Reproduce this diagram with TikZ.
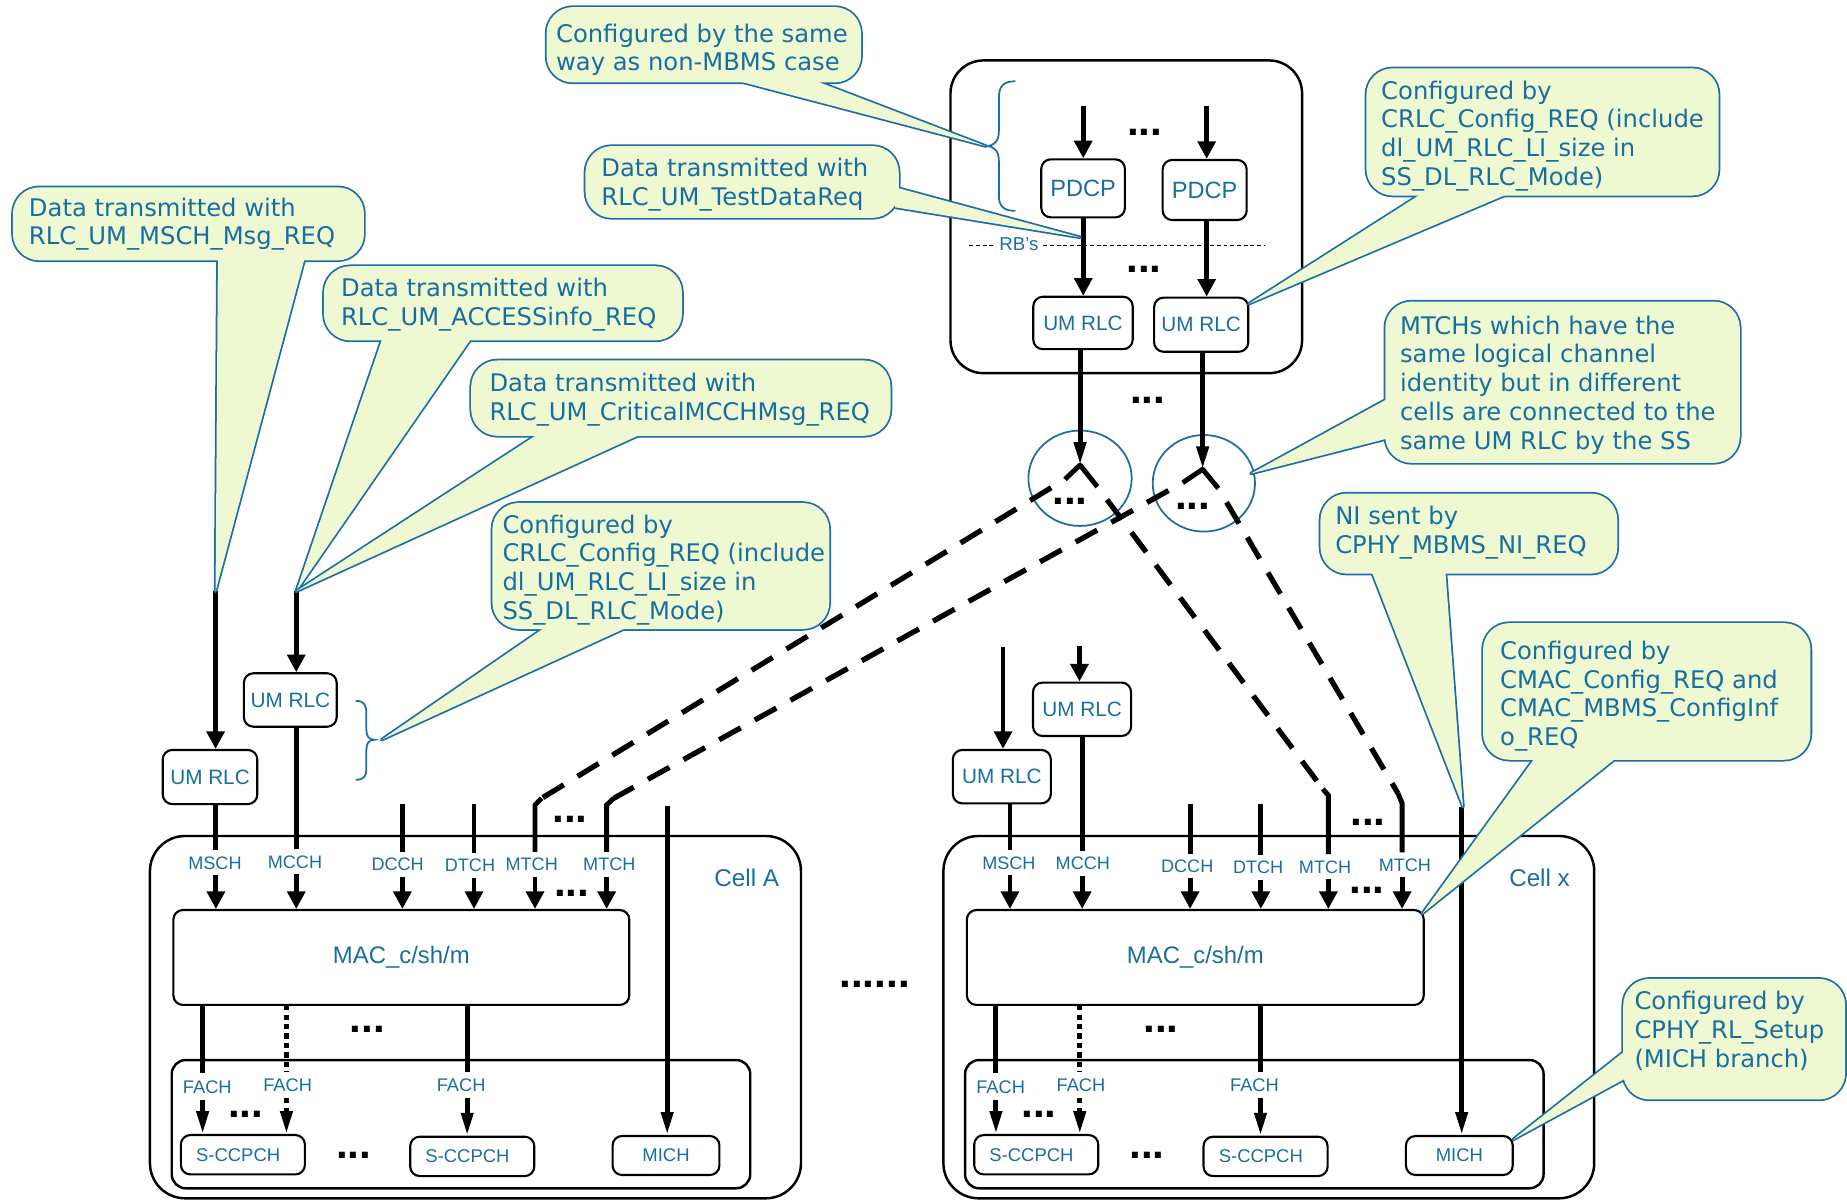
\documentclass[tikz,border=0pt]{standalone}
\usepackage{fontspec}
\setmainfont{Liberation Sans}
\newfontfamily\calfont{DejaVu Sans}
\usetikzlibrary{arrows.meta}
\definecolor{tblue}{RGB}{24,110,160}
\definecolor{cbord}{RGB}{26,110,165}
\definecolor{cfill}{RGB}{238,249,210}
\tikzset{
  every node/.style={inner sep=0pt},
  rbox/.style={draw, line width=0.6pt, rounded corners=2.7pt, text=tblue, align=center},
  lab/.style={font=\fontsize{5.9}{6}\selectfont},
  chl/.style={text=tblue, font=\fontsize{5.15}{6}\selectfont, text height=3.7pt, text depth=0pt, inner ysep=1.5pt, inner xsep=0.5pt},
  fchl/.style={chl, font=\fontsize{5.2}{6}\selectfont, inner ysep=1.7pt},
  ln/.style={line width=1.4pt},
  arr/.style={line width=1.4pt, -{Triangle[length=5pt,width=5pt]}},
  arrn/.style={line width=1.4pt, -{Triangle[length=6.5pt,width=3.3pt]}},
  dsh/.style={line width=1.5pt, dash pattern=on 7pt off 4.6pt, dash phase=7pt},
  dotl/.style={line width=1.4pt, dash pattern=on 1.5pt off 1.2pt},
  ellip/.style={anchor=base, font=\fontsize{12}{12}\selectfont\bfseries},
  ctext/.style={anchor=north west, align=left, text=tblue, font=\calfont\fontsize{6.9}{8.2}\selectfont},
  cline/.style={draw=cbord, line width=1pt, line join=round},
  container/.style={draw, line width=0.7pt},
  bsm/.style={rbox, minimum width=35.3pt, minimum height=11.2pt, font=\fontsize{5.25}{6}\selectfont},
}
\newcommand{\mycallout}[2]{%
  \path[cline, rounded corners=7.5pt] #1;
  \path[cline] #2;
  \fill[cfill, rounded corners=7.5pt] #1;
  \fill[cfill] #2;
}
\begin{document}
\begin{tikzpicture}[x=0.0117793cm, y=-0.0117793cm]
\useasboundingbox (0,0) rectangle (1568,1018.7);

% ---------- top box ----------
\draw[container, rounded corners=9.4pt] (806.9,51.3) rectangle (1105.4,316.8);
\draw[cbord, line width=0.5pt] (862,69) .. controls (852,69) and (848,73) .. (848,83) -- (848,111) .. controls (848,120) and (844,124) .. (837,124) .. controls (844,124) and (848,128) .. (848,137) -- (848,166) .. controls (848,175) and (852,179) .. (862,179);

\node[text=tblue, font=\fontsize{5.3}{6}\selectfont, inner xsep=1.2pt] (rb) at (865,207.5) {RB’s};
\coordinate (rbL) at (823,208.6);
\coordinate (rbR) at (1073,208.6);
\draw[line width=0.35pt, dash pattern=on 1.1pt off 0.8pt] (rbL) -- (rbL -| rb.west);
\draw[line width=0.35pt, dash pattern=on 1.1pt off 0.8pt] (rbR -| rb.east) -- (rbR);

\node[rbox, minimum width=23.8pt, minimum height=16.5pt, font=\fontsize{6.7}{7}\selectfont] (pd1) at (919.5,159.9) {PDCP};
\node[rbox, minimum width=23.9pt, minimum height=17.1pt, font=\fontsize{6.7}{7}\selectfont] (pd2) at (1022.7,161.3) {PDCP};
\node[rbox, lab, minimum width=28.3pt, minimum height=14.9pt] (u1) at (919.4,274.2) {UM RLC};
\node[rbox, lab, minimum width=26.8pt, minimum height=15.4pt] (u2) at (1019.75,275.65) {UM RLC};

\coordinate (tp1) at (919.6,90.3);
\coordinate (tp2) at (1024.4,90.3);
\draw[arr] (tp1) -- (tp1 |- pd1.north);
\draw[arr] (tp2) -- (tp2 |- pd2.north);
\draw[arr] (tp1 |- pd1.south) -- (tp1 |- u1.north);
\draw[arr] (tp2 |- pd2.south) -- (tp2 |- u2.north);

% circles / junctions
\draw[cbord, line width=0.5pt] (916.9,406) ellipse [x radius=14.7pt, y radius=13.57pt];
\draw[cbord, line width=0.5pt] (1022,410.3) ellipse [x radius=14.55pt, y radius=13.74pt];
\coordinate (j1) at (916.9,394.8);
\coordinate (j2) at (1021,398.4);
\draw[arrn] (j1 |- u1.south) -- (j1);
\draw[arrn] (j2 |- u2.south) -- (j2);
\coordinate (s1L) at (904.1,406.9);
\coordinate (s1R) at (931.6,413.2);
\coordinate (s2L) at (1004,409.8);
\coordinate (s2R) at (1034.3,414.6);
\draw[ln, line join=round] (s1L) -- (j1) -- (s1R);
\draw[ln, line join=round] (s2L) -- (j2) -- (s2R);

% ---------- cell containers ----------
\draw[container, rounded corners=10pt] (127.3,709.7) rectangle (680,1017.3);
\draw[container, rounded corners=10pt] (800.9,709.7) rectangle (1353.4,1017.3);
\draw[container, rounded corners=4pt] (145.8,899.9) rectangle (636.9,1008.8);
\draw[container, rounded corners=4pt] (819.3,899.9) rectangle (1310.4,1008.8);
\node[text=tblue, font=\fontsize{6.9}{7}\selectfont] (cellA) at (634,745) {Cell A};
\node[text=tblue, font=\fontsize{6.9}{7}\selectfont] (cellX) at (1307,745) {Cell x};

\node[rbox, minimum width=129.7pt, minimum height=27pt, font=\fontsize{6.8}{7}\selectfont] (macA) at (340.7,812.85) {MAC\_c/sh/m};
\node[rbox, minimum width=130pt, minimum height=27pt, font=\fontsize{6.8}{7}\selectfont] (macX) at (1014.75,812.85) {MAC\_c/sh/m};

\node[rbox, lab, minimum width=26.4pt, minimum height=15.2pt] (aU2) at (246.45,594.25) {UM RLC};
\node[rbox, lab, minimum width=26.9pt, minimum height=15.4pt] (aU1) at (178.3,659.65) {UM RLC};
\node[rbox, lab, minimum width=27.9pt, minimum height=15.2pt] (xU2) at (918.6,602.15) {UM RLC};
\node[rbox, lab, minimum width=27.9pt, minimum height=15.2pt] (xU1) at (850.5,659.35) {UM RLC};

% inputs from above
\coordinate (tH) at (183,502);
\coordinate (tI) at (251.5,502);
\draw[arr] (tH) -- (tH |- aU1.north);
\draw[arr] (tI) -- (tI |- aU2.north);
\coordinate (xMt) at (851.5,549.5);
\coordinate (xCt) at (916.4,548.4);
\draw[arr] (xMt) -- (xMt |- xU1.north);
\draw[arr] (xCt) -- (xCt |- xU2.north);

% ---------- cell A channels ----------
\node[chl] (aL1) at (182.5,732.4) {MSCH};
\node[chl] (aL2) at (250.4,731.5) {MCCH};
\node[chl] (aL3) at (337.6,733.8) {DCCH};
\node[chl] (aL4) at (399,734.6) {DTCH};
\node[chl] (aL5) at (451.4,733.8) {MTCH};
\node[chl] (aL6) at (517.3,733.8) {MTCH};
\coordinate (aC1) at (183.3,682.5);
\coordinate (aC2) at (251.5,682.5);
\coordinate (aC3) at (341.6,682.5);
\coordinate (aC4) at (402.4,682.5);
\coordinate (aC5) at (454.2,683.4);
\coordinate (aB5) at (459.8,677.7);
\coordinate (aC6) at (515,683.4);
\coordinate (aB6) at (521,677.7);
\draw[ln] (aC1 |- aU1.south) -- (aC1 |- aL1.north);
\draw[ln] (aC2 |- aU2.south) -- (aC2 |- aL2.north);
\draw[ln] (aC3) -- (aC3 |- aL3.north);
\draw[ln] (aC4) -- (aC4 |- aL4.north);
\draw[ln] (aB5) -- (aC5) -- (aC5 |- aL5.north);
\draw[ln] (aB6) -- (aC6) -- (aC6 |- aL6.north);
\draw[arr] (aC1 |- aL1.south) -- (aC1 |- macA.north);
\draw[arr] (aC2 |- aL2.south) -- (aC2 |- macA.north);
\draw[arr] (aC3 |- aL3.south) -- (aC3 |- macA.north);
\draw[arr] (aC4 |- aL4.south) -- (aC4 |- macA.north);
\draw[arr] (aC5 |- aL5.south) -- (aC5 |- macA.north);
\draw[arr] (aC6 |- aL6.south) -- (aC6 |- macA.north);

% ---------- cell x channels ----------
\node[chl] (xL1) at (856.5,732.4) {MSCH};
\node[chl] (xL2) at (919.3,732.9) {MCCH};
\node[chl] (xL3) at (1007.9,735.2) {DCCH};
\node[chl] (xL4) at (1068.1,736.3) {DTCH};
\node[chl] (xL5) at (1124.9,735.8) {MTCH};
\node[chl] (xL6) at (1192.7,734.3) {MTCH};
\coordinate (xC1) at (857.4,682.5);
\coordinate (xC2) at (918.7,682.5);
\coordinate (xC3) at (1010.3,682.6);
\coordinate (xC4) at (1070.4,682.6);
\coordinate (xC5) at (1127.7,675.2);
\coordinate (xB5) at (1123,669.8);
\coordinate (xC6) at (1190.3,682);
\coordinate (xB6) at (1186.8,673.5);
\draw[ln] (xC1 |- xU1.south) -- (xC1 |- xL1.north);
\draw[ln] (xC2 |- xU2.south) -- (xC2 |- xL2.north);
\draw[ln] (xC3) -- (xC3 |- xL3.north);
\draw[ln] (xC4) -- (xC4 |- xL4.north);
\draw[ln] (xB5) -- (xC5) -- (xC5 |- xL5.north);
\draw[ln] (xB6) -- (xC6) -- (xC6 |- xL6.north);
\draw[arr] (xC1 |- xL1.south) -- (xC1 |- macX.north);
\draw[arr] (xC2 |- xL2.south) -- (xC2 |- macX.north);
\draw[arr] (xC3 |- xL3.south) -- (xC3 |- macX.north);
\draw[arr] (xC4 |- xL4.south) -- (xC4 |- macX.north);
\draw[arr] (xC5 |- xL5.south) -- (xC5 |- macX.north);
\draw[arr] (xC6 |- xL6.south) -- (xC6 |- macX.north);

% dashed MTCH mapping
\draw[dsh] (s1L) -- (aB5);
\draw[dsh] (s2L) -- (aB6);
\draw[dsh] (s1R) -- (xB5);
\draw[dsh] (s2R) -- (xB6);

% ---------- bottom boxes ----------
\node[bsm] (aS1) at (206.2,980.3) {S-CCPCH\kern2.7pt};
\node[bsm] (aS2) at (400.9,981.7) {S-CCPCH\kern2.7pt};
\node[bsm, minimum width=30.4pt, minimum height=11.1pt] (aMICH) at (565.4,980.95) {MICH};
\node[bsm] (xS1) at (879.7,980.3) {S-CCPCH\kern2.7pt};
\node[bsm] (xS2) at (1074.4,981.7) {S-CCPCH\kern2.7pt};
\node[bsm, minimum width=30.4pt, minimum height=11.1pt] (xMICH) at (1238.9,980.95) {MICH};

\coordinate (aMi) at (566.4,684.2);
\coordinate (xMi) at (1240.9,684.8);
\draw[arrn] (aMi) -- (aMi |- aMICH.north);
\draw[arrn] (xMi) -- (xMi |- xMICH.north);

% FACH
\node[fchl] (aF1) at (176,922.5) {FACH};
\node[fchl] (aF2) at (244.2,921.1) {FACH};
\node[fchl] (aF3) at (391.5,921.1) {FACH};
\node[fchl] (xF1) at (849.5,922.5) {FACH};
\node[fchl] (xF2) at (917.7,921.1) {FACH};
\node[fchl] (xF3) at (1065,921.1) {FACH};
\coordinate (aK1) at (172,853.2);
\coordinate (aK2) at (243.2,853.2);
\coordinate (aK3) at (396.6,853.2);
\coordinate (xK1) at (845.5,853.2);
\coordinate (xK2) at (916.7,853.2);
\coordinate (xK3) at (1070.1,853.2);
\draw[ln] (aK1) -- (aK1 |- aF1.north);
\draw[arrn] (aK1 |- aF1.south) -- (aK1 |- aS1.north);
\draw[dotl] (aK2) -- (aK2 |- aF2.north);
\draw[dotl, -{Triangle[length=6.5pt,width=3.3pt]}] (aK2 |- aF2.south) -- (aK2 |- aS1.north);
\draw[ln] (aK3) -- (aK3 |- aF3.north);
\draw[arrn] (aK3 |- aF3.south) -- (aK3 |- aS2.north);
\draw[ln] (xK1) -- (xK1 |- xF1.north);
\draw[arrn] (xK1 |- xF1.south) -- (xK1 |- xS1.north);
\draw[dotl] (xK2) -- (xK2 |- xF2.north);
\draw[dotl, -{Triangle[length=6.5pt,width=3.3pt]}] (xK2 |- xF2.south) -- (xK2 |- xS1.north);
\draw[ln] (xK3) -- (xK3 |- xF3.north);
\draw[arrn] (xK3 |- xF3.south) -- (xK3 |- xS2.north);

% brace in cell A
\draw[cbord, line width=0.5pt] (302,595) .. controls (309,595) and (311,598) .. (311,606) -- (311,619) .. controls (311,625) and (313,628) .. (318,628) .. controls (313,628) and (311,631) .. (311,637) -- (311,653) .. controls (311,659) and (309,662) .. (302,662);

% ---------- ellipses ----------
\node[ellip] (d1) at (971.9,114.7) {...};
\node[ellip] (d2) at (971.2,231.6) {...};
\node[ellip] (d3) at (974.4,342.8) {...};
\node[ellip] (d4) at (908.4,428.5) {...};
\node[ellip] (d5) at (1012.5,432.2) {...};
\node[ellip] (d6) at (483.9,698.2) {...};
\node[ellip] (d7) at (485.3,761) {...};
\node[ellip] (d8) at (312,876.4) {...};
\node[ellip] (d9) at (208.6,948.3) {...};
\node[ellip] (d10) at (300.2,983.7) {...};
\node[ellip] (d11) at (742.5,838.5) {......};
\node[ellip] (d12) at (1161.4,700.7) {...};
\node[ellip] (d13) at (1160.5,758.2) {...};
\node[ellip] (d14) at (985.5,876.4) {...};
\node[ellip] (d15) at (882.1,948.3) {...};
\node[ellip] (d16) at (973.7,983.7) {...};

% ---------- callouts ----------
\mycallout{(464,6) rectangle (731,70)}{(620,67) -- (837,124) -- (688,67) -- cycle}
\mycallout{(497,124) rectangle (763,185)}{(760,159) -- (917,201.5) -- (760,176) -- cycle}
\mycallout{(1160,58) rectangle (1459,166)}{(1209,163) -- (1060,258) -- (1284,163) -- cycle}
\mycallout{(1176,256) rectangle (1477,393)}{(1179,338) -- (1062,402) -- (1179,372) -- cycle}
\mycallout{(1121,419) rectangle (1373,487)}{(1164,484) -- (1242,685) -- (1227,484) -- cycle}
\mycallout{(1259,529) rectangle (1537,645)}{(1304,642) -- (1207.5,775.5) -- (1374,642) -- cycle}
\mycallout{(1378,831) rectangle (1566.5,933.4)}{(1381,891) -- (1284.4,967.5) -- (1381,915) -- cycle}
\mycallout{(11,159) rectangle (309,221)}{(185,218) -- (183,502) -- (259,218) -- cycle}
\mycallout{(275,226) rectangle (579,289)}{(325,286) -- (251.5,502) -- (401,286) -- cycle}
\mycallout{(400,306) rectangle (756,370)}{(459,367) -- (251.5,502) -- (548,367) -- cycle}
\mycallout{(418,427) rectangle (704,534)}{(465,531) -- (324,628) -- (536,531) -- cycle}

\node[ctext] (cA) at (471.5,16.3) {\rule{0pt}{6.3pt}Configured by the same\\way as non-MBMS case};
\node[ctext] (cB) at (510,130.7) {\rule{0pt}{6.3pt}Data transmitted with\\RLC\_UM\_TestDataReq};
\node[ctext] (cC) at (1172,64.7) {\rule{0pt}{6.3pt}Configured by\\CRLC\_Config\_REQ (include\\dl\_UM\_RLC\_LI\_size in\\SS\_DL\_RLC\_Mode)};
\node[ctext] (cD) at (1188,264.2) {\rule{0pt}{6.3pt}MTCHs which have the\\same logical channel\\identity but in different\\cells are connected to the\\same UM RLC by the SS};
\node[ctext] (cE) at (1133,425.7) {\rule{0pt}{6.3pt}NI sent by\\CPHY\_MBMS\_NI\_REQ};
\node[ctext] (cF) at (1273,540.3) {\rule{0pt}{6.3pt}Configured by\\CMAC\_Config\_REQ and\\CMAC\_MBMS\_ConfigInf\\o\_REQ};
\node[ctext] (cG) at (1387,837.7) {\rule{0pt}{6.3pt}Configured by\\CPHY\_RL\_Setup\\(MICH branch)};
\node[ctext] (cH) at (24,164.1) {\rule{0pt}{6.3pt}Data transmitted with\\RLC\_UM\_MSCH\_Msg\_REQ};
\node[ctext] (cI) at (289,232.7) {\rule{0pt}{6.3pt}Data transmitted with\\RLC\_UM\_ACCESSinfo\_REQ};
\node[ctext] (cJ) at (415,312.7) {\rule{0pt}{6.3pt}Data transmitted with\\RLC\_UM\_CriticalMCCHMsg\_REQ};
\node[ctext] (cK) at (426,433.1) {\rule{0pt}{6.3pt}Configured by\\CRLC\_Config\_REQ (include\\dl\_UM\_RLC\_LI\_size in\\SS\_DL\_RLC\_Mode)};
\end{tikzpicture}
\end{document}
